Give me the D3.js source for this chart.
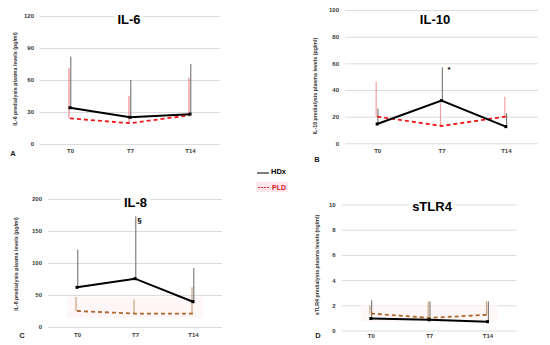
<!DOCTYPE html>
<html>
<head>
<meta charset="utf-8">
<script src="https://cdn.jsdelivr.net/npm/d3@7"></script>
<style>
  body { margin: 0; background: #fff; }
  svg { display: block; font-family: "Liberation Sans", Arial, sans-serif; }
  .grid line { stroke: #dcdcdc; stroke-width: 1; }
  .grid text { fill: #3a3a3a; font-size: 6px; font-weight: bold; }
  .xax text { fill: #3a3a3a; font-size: 6px; font-weight: bold; }
</style>
</head>
<body>
<svg width="550" height="345"></svg>
<script>
// time points
var categories = ["T0", "T7", "T14"];

// IL-6 (pg/ml)
var il6Hdx = [34, 25, 28];
var il6HdxUpper = [82, 60, 75];
var il6Pld = [24, 19.5, 27];
var il6PldUpper = [71, 45, 62];
var il6Ticks = [0, 30, 60, 90, 120];

// IL-10 (pg/ml)
var il10Hdx = [14.5, 32, 12.5];
var il10HdxUpper = [26, 57, 22.5];
var il10Pld = [20, 13, 20];
var il10PldUpper = [46, 30, 35];
var il10Ticks = [0, 20, 40, 60, 80, 100];

// IL-8 (pg/ml)
var il8Hdx = [62, 75.5, 39.5];
var il8HdxUpper = [121, 173, 92];
var il8Pld = [25, 21, 21];
var il8PldUpper = [47, 43, 62];
var il8Ticks = [0, 50, 100, 150, 200];

// sTLR4 (ng/ml)
var tlr4Hdx = [0.95, 0.85, 0.7];
var tlr4HdxUpper = [2.4, 2.3, 2.3];
var tlr4Pld = [1.35, 1.0, 1.25];
var tlr4PldUpper = [2.0, 2.3, 2.3];
var tlr4Ticks = [0, 2, 4, 6, 8, 10];

var svg = d3.select("svg");

var panels = [
  {title: "IL-6", letter: "A", yLabel: "IL-6 predialysis plasma levels (pg/ml)",
   hdx: il6Hdx, hdxUp: il6HdxUpper, pld: il6Pld, pldUp: il6PldUpper, ticks: il6Ticks,
   x0: 40, x1: 220, yb: 144, yt: 16, tx: 129, ty: 24, lx: 17, ly: 79, ax: 13, ay: 156, xy: 149,
   pldColor: "#f01818", errColor: "#f08a8a", shade: false},
  {title: "IL-10", letter: "B", yLabel: "IL-10 predialysis plasma levels (pg/ml)",
   hdx: il10Hdx, hdxUp: il10HdxUpper, pld: il10Pld, pldUp: il10PldUpper, ticks: il10Ticks,
   x0: 345, x1: 538, yb: 143.3, yt: 10, tx: 435, ty: 23.5, lx: 317, ly: 86, ax: 317, ay: 162, xy: 149,
   pldColor: "#f01818", errColor: "#f4a0a0", shade: false, mark: "*", mx: 449, my: 72},
  {title: "IL-8", letter: "C", yLabel: "IL-8 predialysis plasma levels (pg/ml)",
   hdx: il8Hdx, hdxUp: il8HdxUpper, pld: il8Pld, pldUp: il8PldUpper, ticks: il8Ticks,
   x0: 48, x1: 222, yb: 327, yt: 199, tx: 135.5, ty: 207, lx: 18, ly: 264, ax: 22, ay: 338, xy: 333,
   pldColor: "#b0652a", errColor: "#c9a47c", shade: true, mark: "\u00a7", mx: 139.5, my: 223},
  {title: "sTLR4", letter: "D", yLabel: "sTLR4 predialysis plasma levels (ng/ml)",
   hdx: tlr4Hdx, hdxUp: tlr4HdxUpper, pld: tlr4Pld, pldUp: tlr4PldUpper, ticks: tlr4Ticks,
   x0: 341.7, x1: 516.7, yb: 330.5, yt: 204.5, tx: 432, ty: 211, lx: 319, ly: 265, ax: 318, ay: 338, xy: 334,
   pldColor: "#b0652a", errColor: "#c9a47c", shade: true}
];

panels.forEach(function (p) {
  var x = d3.scalePoint().domain(categories).range([p.x0, p.x1]).padding(0.5);
  var y = d3.scaleLinear().domain([0, d3.max(p.ticks)]).range([p.yb, p.yt]);
  var g = svg.append("g");

  // gridlines + tick labels
  var yAxis = d3.axisLeft(y).tickValues(p.ticks).tickSize(-(p.x1 - p.x0)).tickPadding(6);
  g.append("g").attr("class", "grid")
    .attr("transform", "translate(" + p.x0 + ",0)")
    .call(yAxis)
    .call(function (s) { s.select(".domain").remove(); });

  var xAxis = d3.axisBottom(x).tickSize(0).tickPadding(0);
  g.append("g").attr("class", "xax")
    .attr("transform", "translate(0," + p.xy + ")")
    .call(xAxis)
    .call(function (s) { s.select(".domain").remove(); });

  // very faint pink shading behind PLD series (as in source figure)
  if (p.shade) {
    var top = y(p.pldUp[0]);
    g.append("rect")
      .attr("x", x(categories[0]) - 10).attr("y", top)
      .attr("width", x(categories[2]) - x(categories[0]) + 20)
      .attr("height", y(0) - top - 9)
      .attr("fill", "#fff6f8");
  }

  // error bars (upper only)
  var idx = d3.range(categories.length);
  g.selectAll(".ep").data(idx).join("line")
    .attr("x1", function (i) { return x(categories[i]) - 1; })
    .attr("x2", function (i) { return x(categories[i]) - 1; })
    .attr("y1", function (i) { return y(p.pld[i]); })
    .attr("y2", function (i) { return y(p.pldUp[i]); })
    .attr("stroke", p.errColor).attr("stroke-width", 1.2);
  g.selectAll(".eh").data(idx).join("line")
    .attr("x1", function (i) { return x(categories[i]) + 0.8; })
    .attr("x2", function (i) { return x(categories[i]) + 0.8; })
    .attr("y1", function (i) { return y(p.hdx[i]); })
    .attr("y2", function (i) { return y(p.hdxUp[i]); })
    .attr("stroke", "#666").attr("stroke-width", 1);

  var line = d3.line()
    .x(function (d, i) { return x(categories[i]); })
    .y(function (d) { return y(d); });

  g.append("path").datum(p.pld)
    .attr("d", line).attr("fill", "none")
    .attr("stroke", p.pldColor).attr("stroke-width", 1.8)
    .attr("stroke-dasharray", "4,3");
  g.append("path").datum(p.hdx)
    .attr("d", line).attr("fill", "none")
    .attr("stroke", "#000").attr("stroke-width", 2);

  g.selectAll(".mk").data(p.hdx).join("rect")
    .attr("x", function (d, i) { return x(categories[i]) - 1.5; })
    .attr("y", function (d) { return y(d) - 1.5; })
    .attr("width", 3).attr("height", 3).attr("fill", "#000");

  // title with white box
  var box = g.append("rect").attr("fill", "#fff");
  var t = g.append("text").attr("x", p.tx).attr("y", p.ty)
    .attr("text-anchor", "middle").attr("font-size", 13).attr("font-weight", "bold")
    .text(p.title);
  var bb = t.node().getBBox();
  box.attr("x", bb.x - 3).attr("y", bb.y).attr("width", bb.width + 6).attr("height", bb.height);

  // y axis title
  g.append("text")
    .attr("transform", "translate(" + p.lx + "," + p.ly + ") rotate(-90)")
    .attr("text-anchor", "middle").attr("font-size", 5.3).attr("font-weight", "bold")
    .attr("fill", "#333").text(p.yLabel);

  // panel letter
  g.append("text").attr("x", p.ax).attr("y", p.ay)
    .attr("text-anchor", "middle").attr("font-size", 7.5).attr("font-weight", "bold")
    .attr("fill", "#222").text(p.letter);

  if (p.mark) {
    g.append("text").attr("x", p.mx).attr("y", p.my)
      .attr("text-anchor", "middle").attr("font-size", 8).attr("font-weight", "bold")
      .text(p.mark);
  }
});

// legend
var legend = svg.append("g");
legend.append("line").attr("x1", 257).attr("x2", 269).attr("y1", 173).attr("y2", 173)
  .attr("stroke", "#000").attr("stroke-width", 1);
legend.append("text").attr("x", 271).attr("y", 174).attr("font-size", 7.5)
  .attr("font-weight", "bold").text("HDx");
legend.append("rect").attr("x", 256).attr("y", 182).attr("width", 32).attr("height", 10)
  .attr("fill", "#fde6ec");
legend.append("line").attr("x1", 258).attr("x2", 270).attr("y1", 187.5).attr("y2", 187.5)
  .attr("stroke", "#e03030").attr("stroke-width", 1).attr("stroke-dasharray", "2,1");
legend.append("text").attr("x", 272).attr("y", 190).attr("font-size", 7)
  .attr("font-weight", "bold").attr("fill", "#e02020").text("PLD");
</script>
</body>
</html>
